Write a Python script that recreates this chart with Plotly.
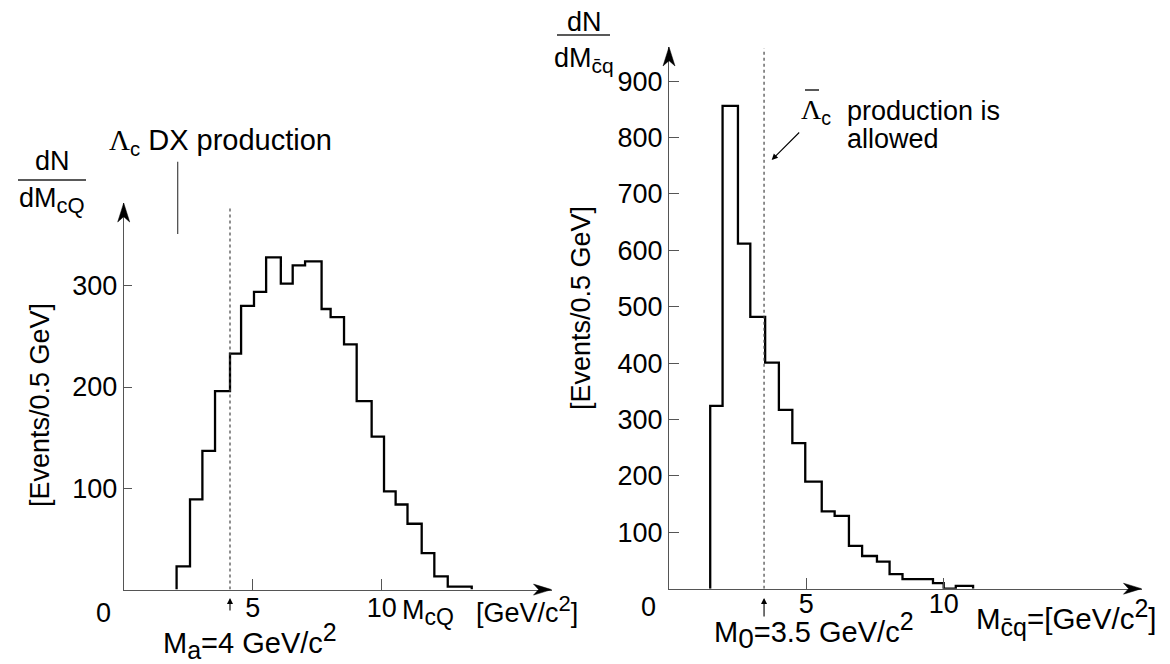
import plotly.graph_objects as go

W, H = 1170, 664
OFF = 8  # the page body has an 8px margin; layout coordinates below are page pixels

# ---------------- data ----------------
# Left panel: dN/dM_cQ  [Events / 0.5 GeV]
left_edges = [2.05, 2.57, 3.05, 3.54, 4.12, 4.55, 5.05, 5.52, 6.09, 6.55, 7.03,
              7.67, 8.02, 8.54, 9.03, 9.61, 10.09, 10.54, 11.0, 11.55, 12.04,
              12.56, 13.49]
left_counts = [23, 89, 137, 196, 233, 280, 294, 328, 302, 320, 324,
               277, 269, 242, 186, 151, 97, 84, 65, 36, 13, 3]
left_threshold = 4.12          # M_a = 4 GeV/c^2 marker
left_xticks = [5, 10]
left_yticks = [100, 200, 300]

# Right panel: dN/dM_{cbar q}
right_edges = [1.50, 1.95, 2.51, 2.96, 3.50, 4.00, 4.49, 4.96, 5.56, 6.03,
               6.55, 7.03, 7.57, 8.03, 8.50, 9.61, 10.00, 10.44, 11.07]
right_counts = [324, 856, 612, 482, 401, 317, 258, 190, 137, 129,
                76, 58, 48, 26, 17, 10, 0, 5]
right_threshold = 3.46         # M_0 = 3.5 GeV/c^2 marker
right_xticks = [5, 10]
right_yticks = [100, 200, 300, 400, 500, 600, 700, 800, 900]

# ---------------- helpers ----------------
FONT = "Liberation Sans, Arial, sans-serif"
SERIF = "Liberation Serif"
AX = "#555555"


def px(x):
    return (x - OFF) / W


def py(y):
    return (H - (y - OFF)) / H


def sub(t, s):
    return f'<sub><span style="font-size:{s}px">{t}</span></sub>'


def sup(t, s):
    return f'<sup><span style="font-size:{s}px">{t}</span></sup>'


def step_xy(edges, counts):
    n = len(counts)
    xs = [edges[0]] + list(edges[:n]) + [edges[n], edges[n]]
    ys = [0] + list(counts) + [counts[-1], 0]
    return xs, ys


fig = go.Figure()

lx, ly = step_xy(left_edges, left_counts)
fig.add_trace(go.Scatter(x=lx, y=ly, mode="lines", line=dict(shape="hv", color="black", width=2.3),
                         xaxis="x", yaxis="y", hoverinfo="skip"))
rx, ry = step_xy(right_edges, right_counts)
fig.add_trace(go.Scatter(x=rx, y=ry, mode="lines", line=dict(shape="hv", color="black", width=2.3),
                         xaxis="x2", yaxis="y2", hoverinfo="skip"))

# ---------------- axes geometry (page pixels) ----------------
L_X0, L_XTIP, L_XSCALE = 123.7, 551.5, 25.8
L_Y0, L_YTIP, L_YSCALE = 589.6, 203.0, 1.013
R_X0, R_XTIP, R_XSCALE = 669.0, 1141.5, 27.47
R_Y0, R_YTIP, R_YSCALE = 588.7, 47.0, 0.564
L_YMAX = (L_Y0 - L_YTIP) / L_YSCALE
R_YMAX = (R_Y0 - R_YTIP) / R_YSCALE

# threshold dotted lines
fig.add_trace(go.Scatter(x=[left_threshold, left_threshold], y=[0, 378], mode="lines",
                         line=dict(color="#444", width=1.2, dash="dot"), xaxis="x", yaxis="y",
                         hoverinfo="skip"))
fig.add_trace(go.Scatter(x=[right_threshold, right_threshold], y=[0, 958], mode="lines",
                         line=dict(color="#444", width=1.2, dash="dot"), xaxis="x2", yaxis="y2",
                         hoverinfo="skip"))

common = dict(showline=True, linecolor=AX, linewidth=1.2, ticks="inside", tickcolor=AX,
              tickwidth=1.2, showgrid=False, zeroline=False, fixedrange=True,
              tickfont=dict(family=FONT, size=27, color="black"))

fig.update_layout(
    width=W, height=H, margin=dict(l=0, r=0, t=0, b=0),
    paper_bgcolor="white", plot_bgcolor="white", showlegend=False,
    xaxis=dict(domain=[px(L_X0), px(L_XTIP)], range=[0, (L_XTIP - L_X0) / L_XSCALE],
               tickvals=left_xticks, ticklen=11, anchor="y", ticklabelstandoff=-6, **common),
    yaxis=dict(domain=[py(L_Y0), py(L_YTIP)], range=[0, L_YMAX],
               tickvals=left_yticks, ticklen=8, anchor="x", **common),
    xaxis2=dict(domain=[px(R_X0), px(R_XTIP)], range=[0, (R_XTIP - R_X0) / R_XSCALE],
                tickvals=right_xticks, ticklen=11, anchor="y2", ticklabelstandoff=-9, **common),
    yaxis2=dict(domain=[py(R_Y0), py(R_YTIP)], range=[0, R_YMAX],
                tickvals=right_yticks, ticklen=10, anchor="x2", **common),
)

shapes = []


def arrowhead(tx, ty, direction, L=18, Wd=11):
    # dart-shaped filled arrowhead, pixel coords -> paper
    if direction == "right":
        pts = [(tx, ty), (tx - L, ty - Wd / 2), (tx - 0.72 * L, ty), (tx - L, ty + Wd / 2)]
    else:  # up
        pts = [(tx, ty), (tx - Wd / 2, ty + L), (tx, ty + 0.72 * L), (tx + Wd / 2, ty + L)]
    path = "M " + " L ".join(f"{px(a):.5f},{py(b):.5f}" for a, b in pts) + " Z"
    shapes.append(dict(type="path", xref="paper", yref="paper", path=path,
                       fillcolor="black", line=dict(color="black", width=0.5)))


arrowhead(L_XTIP, L_Y0, "right")
arrowhead(L_X0, L_YTIP, "up", L=19, Wd=12)
arrowhead(R_XTIP, R_Y0, "right")
arrowhead(R_X0, R_YTIP, "up", L=19, Wd=12)


def pline(x0, y0, x1, y1, color="#444", width=1.2):
    shapes.append(dict(type="line", xref="paper", yref="paper", x0=px(x0), y0=py(y0),
                       x1=px(x1), y1=py(y1), line=dict(color=color, width=width)))


pline(177.7, 161.7, 177.7, 234)                      # pointer under Lambda_c
pline(18, 180, 86, 180, color="#222", width=1.3)     # fraction bars
pline(557, 35, 610, 35, color="#222", width=1.3)
pline(805, 90, 819, 90, color="#222", width=1.5)     # bar over Lambda

fig.update_layout(shapes=shapes)

anns = []


def text(t, x, y, xanchor="left", yanchor="middle", size=27, angle=0, family=FONT):
    anns.append(dict(text=t, x=px(x), y=py(y), xref="paper", yref="paper", showarrow=False,
                     xanchor=xanchor, yanchor=yanchor, textangle=angle,
                     font=dict(family=family, size=size, color="black")))


LAM = f'<span style="font-family:{SERIF}">Λ</span>'

text(LAM + "<sub>c</sub> DX production", 107, 142, size=29)
text("dN", 52, 161, xanchor="center")
text("dM" + sub("cQ", 22), 52, 200, xanchor="center")
text("0", 103.5, 613, xanchor="center")
text("M" + sub("a", 25) + "=4 GeV/c" + sup("2", 25), 161, 641, size=29)
text("M" + sub("cQ", 23), 400, 612, size=27)
text("[GeV/c" + sup("2", 22) + "]", 580, 609, xanchor="right", size=27)
text("[Events/0.5 GeV]", 40, 405, xanchor="center", angle=-90)

text("dN", 584, 22, xanchor="center")
text("dM" + sub("c\u0304q", 21), 584, 60, xanchor="center")
text("0", 648, 607, xanchor="center")
text("M" + sub("0", 28) + "=3.5 GeV/c" + sup("2", 25), 712, 630, size=29)
text("M" + sub("c\u0304q", 25) + "=[GeV/c" + sup("2", 25) + "]", 974, 617, size=29.5)
text("[Events/0.5 GeV]", 581, 308, xanchor="center", angle=-90)
text(LAM + "<sub>c</sub>", 799, 112, size=28)
text("production is", 845, 111)
text("allowed", 845, 139)


def arrow(hx, hy, tx, ty):
    anns.append(dict(text="", x=px(hx), y=py(hy), xref="paper", yref="paper", showarrow=True,
                     ax=tx - hx, ay=ty - hy, axref="pixel", ayref="pixel",
                     arrowhead=2, arrowsize=1.1, arrowwidth=1.1, arrowcolor="black"))


LT = L_X0 + left_threshold * L_XSCALE
RT = R_X0 + right_threshold * R_XSCALE
arrow(LT, 598, LT, 612)
arrow(RT, 598, RT, 618)
arrow(771.7, 160, 800.7, 131)

fig.update_layout(annotations=anns)

fig.write_html("out.html")
